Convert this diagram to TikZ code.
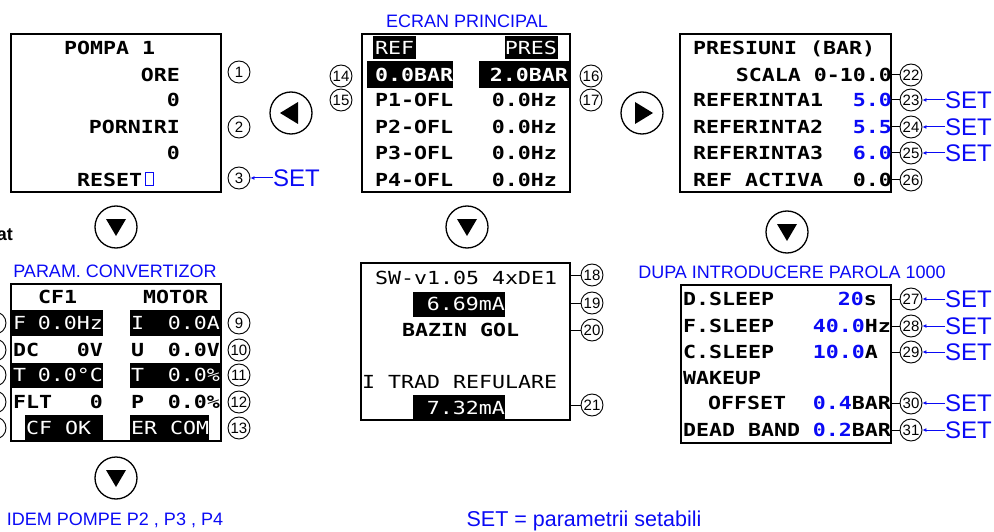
\documentclass[tikz,border=0pt]{standalone}
\usepackage{fontspec}
\setmainfont{Liberation Sans}
\newfontfamily\lcdfont{DejaVu Sans Mono}[FakeStretch=1.2]
\usetikzlibrary{arrows.meta}
\definecolor{setblue}{RGB}{10,10,245}
\tikzset{
	lcdbox/.style={draw=black, line width=1.2pt, inner sep=0pt},
	lcd/.style={font=\lcdfont\bfseries\fontsize{18}{18}\selectfont, inner sep=0pt, text height=13pt, text depth=0pt},
	lcdthin/.style={lcd, font=\lcdfont\fontsize{18}{18}\selectfont},
	lcdinv/.style={lcdthin, text=white},
	numc/.style={circle, draw=black, line width=0.9pt, minimum size=22pt, inner sep=0pt, font=\fontsize{15}{15}\selectfont},
	navc/.style={circle, draw=black, line width=1.3pt, minimum size=42pt, inner sep=0pt},
	title/.style={text=setblue, font=\fontsize{18}{18}\selectfont, inner sep=0pt},
	setlbl/.style={text=setblue, font=\fontsize{24}{24}\selectfont, inner sep=0pt, anchor=west},
	setarr/.style={setblue, line width=1pt, -{Latex[length=4pt, width=4pt]}},
	tick/.style={line width=1pt}
}
\begin{document}
\begin{tikzpicture}[x=1pt, y=-1pt]
	\useasboundingbox (0,0) rectangle (994,532);
	\fill (373,36) rectangle (416,59);
	\fill (505,36) rectangle (558,59);
	\fill (367,61) rectangle (453,88);
	\fill (479,61) rectangle (569,88);
	\fill (12,310) rectangle (103,336);
	\fill (130,310) rectangle (220,336);
	\fill (12,363) rectangle (103,388);
	\fill (130,363) rectangle (220,388);
	\fill (25,415) rectangle (103,440);
	\fill (130,415) rectangle (209,440);
	\fill (413,292) rectangle (505,317);
	\fill (413,395) rectangle (505,420);

	\node[lcdbox, minimum width=210pt, minimum height=158pt] (pompa) at (116,113) {};
	\node[lcdbox, minimum width=208pt, minimum height=158pt] (ecran) at (466,113) {};
	\node[lcdbox, minimum width=211pt, minimum height=158pt] (presiuni) at (785.5,113) {};
	\node[lcdbox, minimum width=210pt, minimum height=157pt] (conv) at (116,362.5) {};
	\node[lcdbox, minimum width=209pt, minimum height=157pt] (sw) at (465.5,341.5) {};
	\node[lcdbox, minimum width=210pt, minimum height=158pt] (sleep) at (786,364) {};

	\node[lcd, anchor=west] (p1) at (64,48) {POMPA 1};
	\node[lcd, anchor=east] (p2) at (180,75) {ORE};
	\node[lcd, anchor=east] (p3) at (180,100) {0};
	\node[lcd, anchor=east] (p4) at (180,127) {PORNIRI};
	\node[lcd, anchor=east] (p5) at (180,153) {0};
	\node[lcd, anchor=west] (p6) at (77,180) {RESET};
	\draw[setblue, line width=1pt] (145,173) rectangle (153,186);

	\node[title] (ecrant) at (467,21) {ECRAN PRINCIPAL};
	\node[lcdinv, anchor=west] (e1) at (375,48) {REF};
	\node[lcdinv, anchor=east] (e2) at (557,48) {PRES};
	\node[lcd, anchor=west, text=white] (e3) at (375,75) {0.0BAR};
	\node[lcd, anchor=east, text=white] (e4) at (568,75) {2.0BAR};
	\node[lcd, anchor=west] (e5) at (375,100) {P1-OFL};
	\node[lcd, anchor=east] (e6) at (557,100) {0.0Hz};
	\node[lcd, anchor=west] (e7) at (375,127) {P2-OFL};
	\node[lcd, anchor=east] (e8) at (557,127) {0.0Hz};
	\node[lcd, anchor=west] (e9) at (375,153) {P3-OFL};
	\node[lcd, anchor=east] (e10) at (557,153) {0.0Hz};
	\node[lcd, anchor=west] (e11) at (375,180) {P4-OFL};
	\node[lcd, anchor=east] (e12) at (557,180) {0.0Hz};

	\node[lcd, anchor=west] (r1) at (693,48) {PRESIUNI (BAR)};
	\node[lcd, anchor=east] (r2) at (892,75) {SCALA 0-10.0};
	\node[lcd, anchor=west] (r3) at (693,100) {REFERINTA1};
	\node[lcd, anchor=east, text=setblue] (r4) at (892,100) {5.0};
	\node[lcd, anchor=west] (r5) at (693,127) {REFERINTA2};
	\node[lcd, anchor=east, text=setblue] (r6) at (892,127) {5.5};
	\node[lcd, anchor=west] (r7) at (693,153) {REFERINTA3};
	\node[lcd, anchor=east, text=setblue] (r8) at (892,153) {6.0};
	\node[lcd, anchor=west] (r9) at (693,180) {REF ACTIVA};
	\node[lcd, anchor=east] (r10) at (892,180) {0.0};

	\node[font=\bfseries\fontsize{18}{18}\selectfont, anchor=east, inner sep=0pt] (cut) at (13,235) {at};
	\node[title] (convt) at (115,271) {PARAM. CONVERTIZOR};
	\node[lcd, anchor=west] (k1) at (38,297) {CF1};
	\node[lcd, anchor=west] (k2) at (143,297) {MOTOR};
	\node[lcdinv, anchor=west] (k3) at (13,323) {F};
	\node[lcdinv, anchor=east] (k4) at (103,323) {0.0Hz};
	\node[lcdinv, anchor=west] (k5) at (131,323) {I};
	\node[lcdinv, anchor=east] (k6) at (220,323) {0.0A};
	\node[lcd, anchor=west] (k7) at (13,350) {DC};
	\node[lcd, anchor=east] (k8) at (103,350) {0V};
	\node[lcd, anchor=west] (k9) at (131,350) {U};
	\node[lcd, anchor=east] (k10) at (220,350) {0.0V};
	\node[lcdinv, anchor=west] (k11) at (13,375) {T};
	\node[lcdinv, anchor=east] (k12) at (103,375) {0.0°C};
	\node[lcdinv, anchor=west] (k13) at (131,375) {T};
	\node[lcdinv, anchor=east] (k14) at (220,375) {0.0\%};
	\node[lcd, anchor=west] (k15) at (13,402) {FLT};
	\node[lcd, anchor=east] (k16) at (103,402) {0};
	\node[lcd, anchor=west] (k17) at (131,402) {P};
	\node[lcd, anchor=east] (k18) at (220,402) {0.0\%};
	\node[lcdinv, anchor=west] (k19) at (26,428) {CF OK};
	\node[lcdinv, anchor=west] (k20) at (131,428) {ER COM};
	\node[title] (idem) at (115,520) {IDEM POMPE P2 , P3 , P4};

	\node[lcdthin, anchor=west] (w1) at (375,278) {SW-v1.05 4xDE1};
	\node[lcdinv, anchor=east] (w2) at (505,304) {6.69mA};
	\node[lcd, anchor=west] (w3) at (402,330) {BAZIN GOL};
	\node[lcdthin, anchor=west] (w4) at (362,382) {I TRAD REFULARE};
	\node[lcdinv, anchor=east] (w5) at (505,408) {7.32mA};

	\node[title] (sleept) at (792,272) {DUPA INTRODUCERE PAROLA 1000};
	\node[lcd, anchor=west] (d1) at (683,299) {D.SLEEP};
	\node[lcd, anchor=east] (d2) at (877,299) {\textcolor{setblue}{20}s};
	\node[lcd, anchor=west] (d3) at (683,326) {F.SLEEP};
	\node[lcd, anchor=east] (d4) at (891,326) {\textcolor{setblue}{40.0}Hz};
	\node[lcd, anchor=west] (d5) at (683,352) {C.SLEEP};
	\node[lcd, anchor=east] (d6) at (878,352) {\textcolor{setblue}{10.0}A};
	\node[lcd, anchor=west] (d7) at (683,378) {WAKEUP};
	\node[lcd, anchor=west] (d8) at (708,403) {OFFSET};
	\node[lcd, anchor=east] (d9) at (891,403) {\textcolor{setblue}{0.4}BAR};
	\node[lcd, anchor=west] (d10) at (683,430) {DEAD BAND};
	\node[lcd, anchor=east] (d11) at (891,430) {\textcolor{setblue}{0.2}BAR};

	\node[title, font=\fontsize{21.5}{21.5}\selectfont] (legend) at (584,521) {SET = parametrii setabili};

	\foreach \n/\y in {1/72, 2/127, 3/178, 9/323, 10/350, 11/375, 12/402, 13/428}
		\node[numc] (c\n) at (239,\y) {\n};
	\foreach \n/\y in {4/323, 5/350, 6/375, 7/402, 8/428}
		\node[numc] (c\n) at (-5,\y) {\n};
	\node[numc] (c14) at (341,76) {14};
	\node[numc] (c15) at (341,100) {15};
	\node[numc] (c16) at (591,76) {16};
	\node[numc] (c17) at (591,100) {17};
	\foreach \n/\y in {18/275, 19/303, 20/330, 21/405} {
		\node[numc] (c\n) at (592,\y) {\n};
		\draw[tick] (c\n.west) -- (c\n.west -| sw.east);
	}
	\foreach \n/\y in {22/75, 23/100, 24/127, 25/153, 26/180} {
		\node[numc] (c\n) at (911,\y) {\n};
		\draw[tick] (c\n.west) -- (c\n.west -| presiuni.east);
	}
	\foreach \n/\y in {27/299, 28/326, 29/352, 30/403, 31/430} {
		\node[numc] (c\n) at (911,\y) {\n};
		\draw[tick] (c\n.west) -- (c\n.west -| sleep.east);
		\node[setlbl] (s\n) at (945,\y) {SET};
		\draw[setarr] (s\n.west) -- (c\n.east);
	}
	\foreach \n/\y in {23/100, 24/127, 25/153} {
		\node[setlbl] (s\n) at (945,\y) {SET};
		\draw[setarr] (s\n.west) -- (c\n.east);
	}
	\node[setlbl] (s3) at (273,178) {SET};
	\draw[setarr] (s3.west) -- (c3.east);

	\node[navc] (navl) at (291,113) {};
	\fill ([shift={(-11,0)}]navl.center) -- ++(18,-11) -- ++(0,22) -- cycle;
	\node[navc] (navr) at (642,113) {};
	\fill ([shift={(11,0)}]navr.center) -- ++(-18,-11) -- ++(0,22) -- cycle;
	\foreach \nm/\x/\y in {navd1/116/227, navd2/467/227, navd3/787/232, navd4/116/478} {
		\node[navc] (\nm) at (\x,\y) {};
		\fill ([shift={(-10,-8)}]\nm.center) -- ++(20,0) -- ++(-10,17) -- cycle;
	}
\end{tikzpicture}
\end{document}
